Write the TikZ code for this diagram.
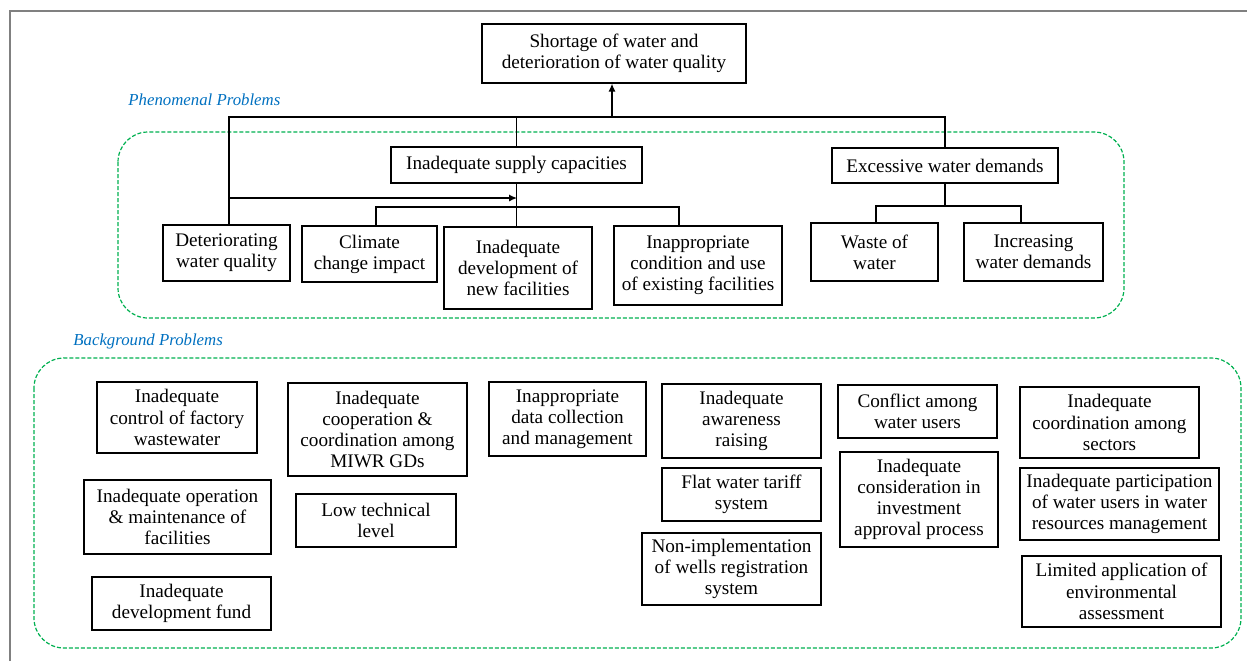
\documentclass[tikz,border=0pt]{standalone}
\usepackage{fontspec}
\setmainfont{Liberation Serif}
\usetikzlibrary{arrows.meta}
\definecolor{grpgreen}{RGB}{0,176,80}
\definecolor{lblblue}{RGB}{0,112,192}
\begin{document}
\begin{tikzpicture}[x=0.5pt, y=-0.5pt,
  prob/.style={draw, line width=0.6pt, align=center, inner sep=1pt, font=\fontsize{9.6}{10.6}\selectfont},
  grp/.style={draw=grpgreen, line width=0.6pt, dash pattern=on 2pt off 1pt, rounded corners=15pt},
  lbl/.style={text=lblblue, font=\fontsize{8.4}{10}\selectfont\itshape, anchor=west, inner sep=0pt},
  link/.style={line width=0.7pt},
  arr/.style={line width=0.7pt, -{Latex[length=4pt,width=3.6pt]}}]
\useasboundingbox (0,0) rectangle (1247,661);
\draw[gray, line width=1pt] (10,661) -- (10,11) -- (1247,11);

\draw[grp] (118,132) rectangle (1124,318);
\draw[grp] (34,358) rectangle (1241,648);
\node[lbl] (phen) at (128,100) {Phenomenal Problems};
\node[lbl] (back) at (73,341) {Background Problems};

\node[prob, minimum width=132pt, minimum height=29.5pt] (top) at (614,53.5) {Shortage of water and\\deterioration of water quality};
\node[prob, minimum width=125.5pt, minimum height=18pt] (sup) at (516.5,165) {Inadequate supply capacities};
\node[prob, minimum width=113pt, minimum height=17.5pt] (exc) at (945,165.5) {Excessive water demands};
\node[prob, minimum width=63.5pt, minimum height=28pt] (det) at (226.5,253) {Deteriorating\\water quality};
\node[prob, minimum width=67.5pt, minimum height=28pt] (clim) at (369.5,254) {Climate\\change impact};
\node[prob, minimum width=74pt, minimum height=41pt] (dev) at (518,268) {Inadequate\\development of\\new facilities};
\node[prob, minimum width=84pt, minimum height=39.5pt] (cond) at (698,265.5) {Inappropriate\\condition and use\\of existing facilities};
\node[prob, minimum width=63.5pt, minimum height=29pt] (waste) at (874.5,252) {Waste of\\water};
\node[prob, minimum width=69.5pt, minimum height=29pt] (incr) at (1033.5,252) {Increasing\\water demands};

\coordinate (bus) at (612,117);
\coordinate (hit) at (517,198);
\coordinate (fork) at (517,207);
\coordinate (efork) at (946,206);
\draw[link] ([xshift=1.25pt]det.north) |- (exc.north |- bus) -- (exc.north);
\draw[link] (sup.north) -- (sup.north |- bus);
\draw[arr] (bus) -- (bus |- top.south);
\draw[arr] ([xshift=1.25pt]det.north |- hit) -- (hit);
\draw[link] (sup.south) -- (sup.south |- dev.north);
\draw[link] ([xshift=3.25pt]clim.north) |- (fork) -| ([xshift=-9.5pt]cond.north);
\draw[link] (exc.south) -- (exc.south |- efork);
\draw[link] ([xshift=0.75pt]waste.north) |- (efork) -| ([xshift=-6.25pt]incr.north);

\node[prob, minimum width=80pt, minimum height=35.5pt] (ctrl) at (177,417.5) {Inadequate\\control of factory\\wastewater};
\node[prob, minimum width=89.5pt, minimum height=46.5pt] (coop) at (377.5,429.5) {Inadequate\\cooperation \&\\coordination among\\MIWR GDs};
\node[prob, minimum width=78.5pt, minimum height=37pt] (data) at (567.5,419) {Inappropriate\\data collection\\and management};
\node[prob, minimum width=79.5pt, minimum height=37pt] (aware) at (741.5,421) {Inadequate\\awareness\\raising};
\node[prob, minimum width=79.5pt, minimum height=26.5pt] (confl) at (917.5,411.5) {Conflict among\\water users};
\node[prob, minimum width=89.5pt, minimum height=35.5pt] (coord) at (1109.5,422.5) {Inadequate\\coordination among\\sectors};
\node[prob, minimum width=93.5pt, minimum height=37pt] (oper) at (177.5,517) {Inadequate operation\\\& maintenance of\\facilities};
\node[prob, minimum width=80pt, minimum height=26.5pt] (low) at (376,520.5) {Low technical\\level};
\node[prob, minimum width=79.5pt, minimum height=26.5pt] (flat) at (741.5,494.5) {Flat water tariff\\system};
\node[prob, minimum width=79pt, minimum height=47.5pt] (consid) at (919,499.5) {Inadequate\\consideration in\\investment\\approval process};
\node[prob, minimum width=99.5pt, minimum height=36pt] (partic) at (1119.5,504) {Inadequate participation\\of water users in water\\resources management};
\node[prob, minimum width=89.5pt, minimum height=36pt] (nonimp) at (731.5,569) {Non-implementation\\of wells registration\\system};
\node[prob, minimum width=89.5pt, minimum height=26.5pt] (fund) at (181.5,603.5) {Inadequate\\development fund};
\node[prob, minimum width=99.5pt, minimum height=35.5pt] (limit) at (1121.5,591.5) {Limited application of\\environmental\\assessment};
\end{tikzpicture}
\end{document}
